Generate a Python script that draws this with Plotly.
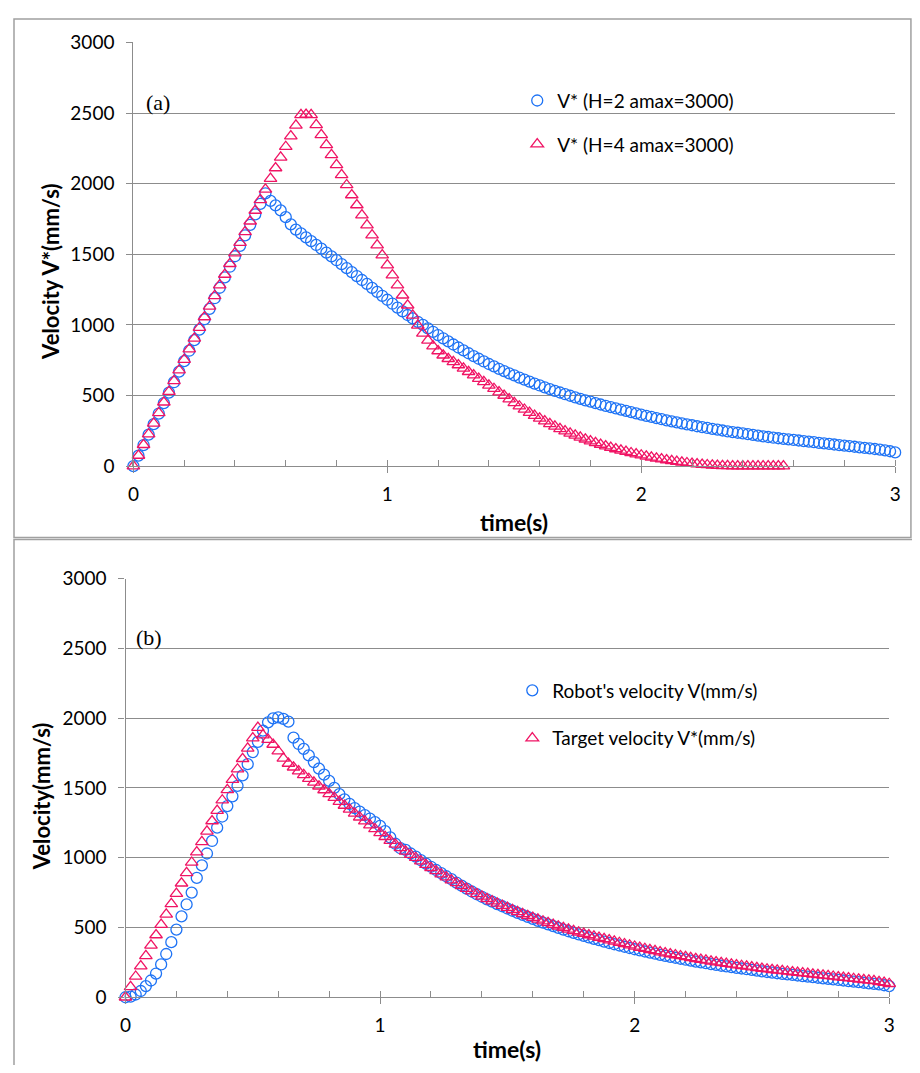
import plotly.graph_objects as go

# ---------------- data (sampled every 20 ms) ----------------
T_STEP = 0.02

# Panel (a): V* for H=2, amax=3000  (also the target V* in panel (b))
v_star_h2 = [
    0, 74, 149, 223, 297,
    372, 446, 520, 594, 669,
    743, 817, 892, 966, 1040,
    1114, 1189, 1263, 1337, 1412,
    1486, 1560, 1634, 1709, 1783,
    1857, 1932, 1878, 1846, 1811,
    1763, 1712, 1675, 1648, 1620,
    1593, 1566, 1540, 1512, 1485,
    1458, 1430, 1402, 1374, 1346,
    1318, 1290, 1262, 1234, 1206,
    1178, 1150, 1122, 1096, 1070,
    1046, 1022, 1000, 975, 951,
    928, 905, 883, 861, 840,
    819, 799, 779, 760, 741,
    723, 706, 689, 673, 657,
    642, 627, 612, 598, 584,
    571, 558, 545, 533, 521,
    509, 498, 487, 476, 466,
    456, 446, 436, 427, 418,
    409, 400, 391, 382, 373,
    364, 356, 348, 340, 332,
    324, 317, 310, 303, 296,
    289, 282, 276, 270, 264,
    258, 252, 246, 241, 236,
    231, 226, 221, 216, 211,
    206, 201, 197, 193, 189,
    185, 181, 177, 173, 169,
    165, 161, 157, 153, 149,
    145, 141, 137, 133, 129,
    125, 121, 117, 111, 105,
    97,
]

# Panel (a): V* for H=4, amax=3000
v_star_h4 = [
    0, 75, 151, 226, 302,
    377, 452, 528, 603, 679,
    754, 829, 905, 980, 1056,
    1131, 1206, 1282, 1357, 1433,
    1508, 1583, 1659, 1734, 1810,
    1885, 1960, 2036, 2111, 2187,
    2262, 2337, 2413, 2488, 2490,
    2488, 2417, 2346, 2275, 2204,
    2133, 2062, 1991, 1920, 1849,
    1778, 1707, 1636, 1565, 1494,
    1423, 1352, 1281, 1210, 1139,
    1068, 997, 940, 890, 850,
    815, 785, 760, 738, 716,
    692, 668, 644, 620, 596,
    572, 548, 524, 500, 474,
    448, 424, 401, 379, 358,
    338, 318, 299, 281, 264,
    248, 232, 217, 203, 190,
    177, 165, 153, 142, 131,
    121, 111, 102, 93, 85,
    77, 69, 62, 55, 49,
    43, 37, 32, 27, 22,
    18, 14, 11, 8, 5,
    3, 2, 1, 0, 0,
    0, 0, 0, 0, 0,
    0, 0, 0, 0,
]

# Panel (b): robot's measured velocity V
v_robot = [
    0, 5, 20, 45, 80,
    120, 170, 235, 310, 395,
    485, 580, 665, 750, 855,
    945, 1030, 1120, 1215, 1295,
    1370, 1440, 1515, 1590, 1670,
    1757, 1830, 1910, 1970, 1998,
    2005, 1995, 1975, 1860, 1815,
    1780, 1733, 1685, 1638, 1595,
    1550, 1500, 1455, 1418, 1385,
    1355, 1330, 1305, 1280, 1255,
    1228, 1190, 1145, 1100, 1068,
    1056, 1030, 1008, 982, 958,
    935, 912, 889, 867, 846,
    822, 800, 778, 758, 738,
    720, 702, 685, 668, 652,
    636, 620, 605, 590, 576,
    562, 548, 535, 522, 510,
    497, 485, 473, 462, 451,
    440, 429, 419, 409, 399,
    389, 380, 371, 362, 353,
    344, 336, 328, 320, 312,
    304, 297, 290, 283, 276,
    269, 262, 256, 250, 244,
    238, 232, 226, 221, 216,
    211, 206, 201, 196, 191,
    186, 181, 176, 172, 168,
    164, 160, 156, 152, 148,
    144, 140, 136, 132, 128,
    124, 120, 116, 112, 108,
    104, 100, 96, 92, 86,
    80,
]

# Panel (b): target velocity V*
v_target = v_star_h2

x_ticks = [0, 1, 2, 3]
y_ticks = [0, 500, 1000, 1500, 2000, 2500, 3000]

names_a = ["V* (H=2 amax=3000)", "V* (H=4 amax=3000)"]
names_b = ["Robot's velocity V(mm/s)", "Target velocity V*(mm/s)"]


def times(vals):
    return [round(i * T_STEP, 2) for i in range(len(vals))]


# ---------------- styling ----------------
# the page body has an 8 px margin, so the figure is made 16 px smaller
OFF = 8
W, H = 920 - 2 * OFF, 1073 - 2 * OFF
BLUE = "rgb(30,115,245)"
PINK = "rgb(240,20,100)"
GRID = "#8c8c8c"
FONT = "Lato, 'Open Sans', sans-serif"
SERIF = "'Liberation Serif', 'Times New Roman', serif"


def px(x):
    return (x - OFF) / W


def py(y):
    return 1 - (y - OFF) / H


circle = dict(symbol="circle-open", size=11, color=BLUE, line=dict(width=1.3, color=BLUE))
tri = dict(symbol="triangle-up-open", size=11, color=PINK, line=dict(width=1.3, color=PINK))

fig = go.Figure()
fig.add_trace(go.Scatter(x=times(v_star_h2), y=v_star_h2, mode="markers", name=names_a[0],
                         marker=circle, xaxis="x", yaxis="y", legend="legend",
                         legendgroup="a1", cliponaxis=False))
fig.add_trace(go.Scatter(x=times(v_star_h4), y=v_star_h4, mode="markers", name=names_a[1],
                         marker=tri, xaxis="x", yaxis="y", legend="legend",
                         legendgroup="a2", cliponaxis=False))
fig.add_trace(go.Scatter(x=times(v_robot), y=v_robot, mode="markers", name=names_b[0],
                         marker=circle, xaxis="x2", yaxis="y2", legend="legend2",
                         legendgroup="b1", cliponaxis=False))
fig.add_trace(go.Scatter(x=times(v_target), y=v_target, mode="markers", name=names_b[1],
                         marker=tri, xaxis="x2", yaxis="y2", legend="legend2",
                         legendgroup="b2", cliponaxis=False))


def xaxis_cfg(domain, anchor):
    return dict(domain=domain, anchor=anchor, range=[0, 3], tickvals=x_ticks,
                showline=True, linecolor=GRID, linewidth=1.3, showgrid=False,
                zeroline=False, ticks="outside", ticklen=6, tickcolor=GRID, tickwidth=1.3,
                tickfont=dict(family=FONT, size=19, color="#000"), ticklabelstandoff=5,
                minor=dict(dtick=0.2, tick0=0, ticks="inside", ticklen=6,
                           tickcolor=GRID, tickwidth=1.3, showgrid=False))


def yaxis_cfg(domain, anchor):
    return dict(domain=domain, anchor=anchor, range=[0, 3000], tickvals=y_ticks,
                showline=True, linecolor=GRID, linewidth=1.3, showgrid=True,
                gridcolor=GRID, gridwidth=1.3, zeroline=False, ticks="outside",
                ticklen=6, tickcolor=GRID, tickwidth=1.3,
                tickfont=dict(family=FONT, size=19, color="#000"), ticklabelstandoff=8)


fig.update_layout(
    width=W, height=H, margin=dict(l=0, r=0, t=0, b=0),
    paper_bgcolor="white", plot_bgcolor="white",
    font=dict(family=FONT, size=19, color="#000"),
    xaxis=xaxis_cfg([px(129), px(901)], "y"),
    yaxis=yaxis_cfg([py(464), py(31)], "x"),
    xaxis2=xaxis_cfg([px(121), px(895)], "y2"),
    yaxis2=yaxis_cfg([py(1007), py(579)], "x2"),
    legend=dict(x=px(518), y=py(71), xanchor="left", yanchor="top",
                bgcolor="rgba(0,0,0,0)", traceorder="grouped", tracegroupgap=16,
                font=dict(family=FONT, size=19, color="#000")),
    legend2=dict(x=px(513), y=py(674), xanchor="left", yanchor="top",
                 bgcolor="rgba(0,0,0,0)", traceorder="grouped", tracegroupgap=20,
                 font=dict(family=FONT, size=19, color="#000")),
    showlegend=True,
)

annotations = [
    dict(text="(a)", x=px(154), y=py(92), font=dict(family=SERIF, size=22)),
    dict(text="(b)", x=px(145), y=py(639), font=dict(family=SERIF, size=22)),
    dict(text="<b>time(s)</b>", x=px(515), y=py(521), font=dict(family=FONT, size=23)),
    dict(text="<b>time(s)</b>", x=px(508), y=py(1060), font=dict(family=FONT, size=23)),
    dict(text="<b>Velocity V*(mm/s)</b>", x=px(45), y=py(266), textangle=-90,
         font=dict(family=FONT, size=22)),
    dict(text="<b>Velocity(mm/s)</b>", x=px(36), y=py(802), textangle=-90,
         font=dict(family=FONT, size=22)),
]
for a in annotations:
    a.update(xref="paper", yref="paper", showarrow=False, xanchor="center", yanchor="middle")
fig.update_layout(annotations=annotations)

FRAME = "#a0a0a0"
fig.update_layout(shapes=[
    dict(type="rect", xref="paper", yref="paper", x0=px(8), x1=px(917), y0=py(537), y1=py(7),
         line=dict(color=FRAME, width=1.5)),
    dict(type="rect", xref="paper", yref="paper", x0=px(8), x1=px(935), y0=py(1090), y1=py(539),
         line=dict(color=FRAME, width=1.5)),
])

fig.write_html("out.html")
